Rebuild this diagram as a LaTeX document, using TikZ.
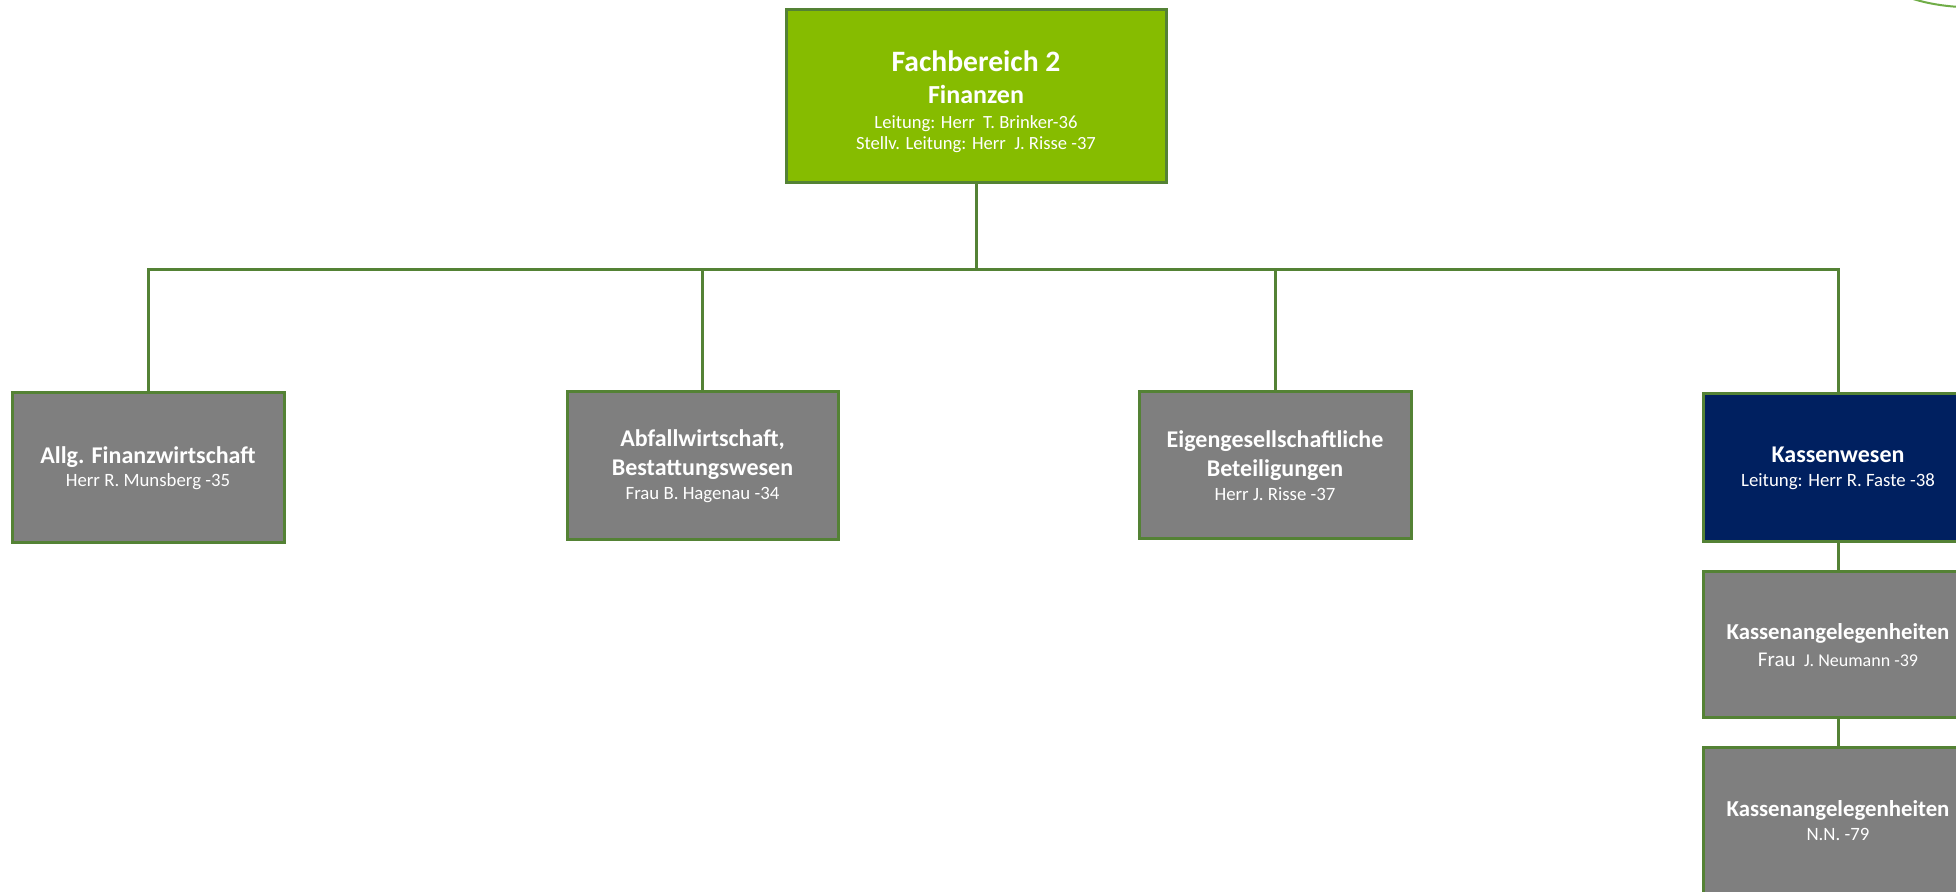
\documentclass[tikz,border=0pt]{standalone}
\usepackage{fontspec}
\setmainfont{Carlito}
\definecolor{fbgreen}{RGB}{134,188,0}
\definecolor{edgegreen}{RGB}{84,130,53}
\definecolor{boxgray}{RGB}{127,127,127}
\definecolor{navy}{RGB}{0,32,96}
\definecolor{arcgreen}{RGB}{112,173,71}
\newcommand{\ttl}{\fontsize{12}{12}\selectfont\bfseries}
\tikzset{
  orgbox/.style={draw=edgegreen, line width=1.5pt, fill=boxgray, text=white, align=center, inner sep=0pt, font=\fontsize{9.4}{12}\selectfont},
  conn/.style={draw=edgegreen, line width=1.5pt},
}
\begin{document}
\begin{tikzpicture}[x=0.5pt,y=-0.5pt]
\useasboundingbox (0,0) rectangle (1956,892);
\clip (0,0) rectangle (1956,892);
\fill[white] (0,0) rectangle (1956,892);
% top box
\node[orgbox, fill=fbgreen, minimum width=190pt, minimum height=86.5pt] (top) at (976,96.5) {};
\node[text=white, align=center, inner sep=0pt, font=\fontsize{9.3}{12}\selectfont] (toptext) at (976,101.5)
  {{\fontsize{14.8}{12}\selectfont\bfseries Fachbereich 2}\\[4pt]
   {\fontsize{13}{12}\selectfont\bfseries Finanzen}\\[0.5pt]
   Leitung: Herr\ \ T. Brinker-36\\[-1.5pt]
   Stellv. Leitung: Herr\ \ J. Risse -37};
% level 2
\node[orgbox, minimum width=136pt, minimum height=75pt] (b1) at (148,468)
  {{\ttl Allg. Finanzwirtschaft}\\[-0.5pt]Herr R. Munsberg -35};
\node[orgbox, minimum width=135.5pt, minimum height=74pt] (b2) at (702.5,466)
  {{\ttl Abfallwirtschaft,}\\[2.5pt]{\ttl Bestattungswesen}\\Frau B. Hagenau -34};
\node[orgbox, minimum width=136pt, minimum height=73.5pt] (b3) at (1275,465.5)
  {{\ttl Eigengesellschaftliche}\\[2.5pt]{\ttl Beteiligungen}\\Herr J. Risse -37};
\node[orgbox, fill=navy, minimum width=135pt, minimum height=74pt] (b4) at (1838,468)
  {{\ttl Kassenwesen}\\Leitung: Herr R. Faste -38};
\node[orgbox, minimum width=135pt, minimum height=73pt] (b5) at (1838,645)
  {{\fontsize{11.4}{12}\selectfont\bfseries Kassenangelegenheiten}\\[1.5pt]{\fontsize{10.5}{12}\selectfont Frau}\ \ {\fontsize{9}{12}\selectfont J. Neumann -39}};
\node[orgbox, minimum width=135pt, minimum height=73pt] (b6) at (1838,821)
  {{\fontsize{11.4}{12}\selectfont\bfseries Kassenangelegenheiten}\\N.N. -79};
% connectors
\coordinate (bus) at (0,270);
\draw[conn] (top.south) -- (top.south |- bus);
\draw[conn] (b1.north) -- (b1.north |- bus) -- (b4.north |- bus) -- (b4.north);
\draw[conn] (b2.north) -- (b2.north |- bus);
\draw[conn] (b3.north) -- (b3.north |- bus);
\draw[conn] (b4.south) -- (b5.north);
\draw[conn] (b5.south) -- (b6.north);
% decorative arc top right
\coordinate (arcA) at (1910,-2);
\coordinate (arcB) at (1960,7);
\draw[arcgreen, line width=1pt] (arcA) .. controls (1925,3) and (1942,6) .. (arcB);
\end{tikzpicture}
\end{document}
